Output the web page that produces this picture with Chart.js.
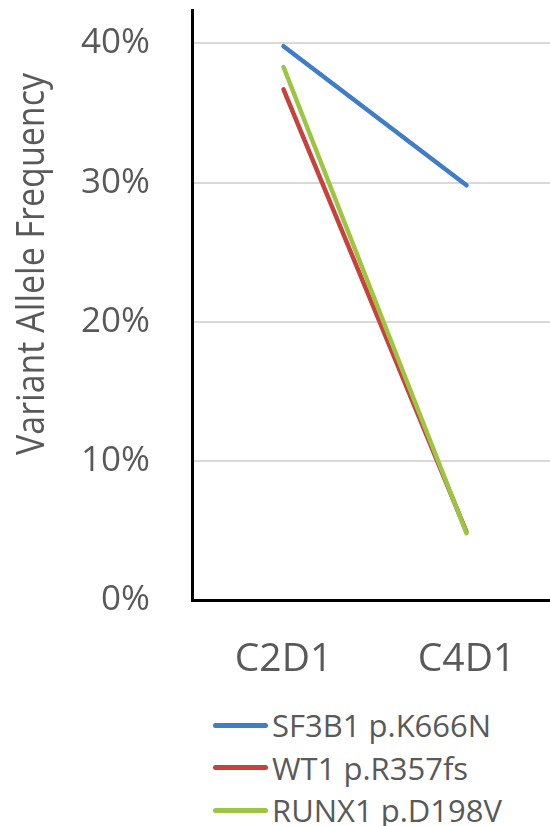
<!DOCTYPE html>
<html>
<head>
<meta charset="utf-8">
<script src="https://cdn.jsdelivr.net/npm/chart.js@4.4.1/dist/chart.umd.min.js"></script>
<style>
  html,body{margin:0;padding:0;background:#fff;overflow:hidden;width:550px;height:826px}
  #wrap{position:relative;width:560px;height:690px}
  #legend{position:absolute;left:213px;top:704px;font-family:"Open Sans","Noto Sans",sans-serif;font-size:31px;color:#595959}
  #legend .row{display:flex;align-items:center;height:42.5px;white-space:nowrap}
  #legend .swatch{width:55px;height:5px;border-radius:3px;margin-right:4px}
</style>
</head>
<body>
<div id="wrap"><canvas id="c" width="560" height="690"></canvas></div>
<div id="legend"></div>
<script>
const categories = ['C2D1','C4D1'];
const seriesNames = ['SF3B1 p.K666N','WT1 p.R357fs','RUNX1 p.D198V'];
const sf3b1 = [39.8, 29.8];
const wt1 = [36.7, 4.9];
const runx1 = [38.3, 4.8];
const yTicks = [0,10,20,30,40];
const yTitle = 'Variant Allele Frequency';
const colors = ['#3f7dc8','#c8413b','#9cc543'];

const seriesData = [sf3b1, wt1, runx1];
const drawOrder = [0, 2, 1];

const datasets = seriesNames.map((name,i)=>({
  label:name, data:seriesData[i], borderColor:colors[i], backgroundColor:colors[i],
  borderWidth:4.5, borderCapStyle:'round', pointRadius:0, tension:0, order:drawOrder[i]
}));

// axis title sits a bit above the axis middle in the original, and is condensed
const yTitlePlugin = {
  id:'yTitle',
  afterDraw(c){
    const ctx = c.ctx;
    ctx.save();
    ctx.translate(33, 264);
    ctx.rotate(-Math.PI/2);
    ctx.font = '39px "Open Sans","Noto Sans",sans-serif';
    const w = ctx.measureText(yTitle).width;
    ctx.scale(382 / w, 1);
    ctx.fillStyle = '#595959';
    ctx.textAlign = 'center';
    ctx.textBaseline = 'middle';
    ctx.fillText(yTitle, 0, 0);
    ctx.restore();
  }
};

const chart = new Chart(document.getElementById('c'), {
  type:'line',
  data:{labels:categories, datasets},
  plugins:[yTitlePlugin],
  options:{
    responsive:false, animation:false,
    layout:{padding:{top:10,right:2,left:0,bottom:0}},
    plugins:{legend:{display:false}, tooltip:{enabled:false}},
    scales:{
      x:{
        offset:true,
        grid:{display:false, drawTicks:false},
        border:{color:'#000', width:3},
        ticks:{color:'#595959', padding:36, font:{family:'"Open Sans","Noto Sans",sans-serif', size:39}},
        afterFit:s=>{ s.height = 90; }
      },
      y:{
        min:0, max:42.4,
        afterBuildTicks:s=>{ s.ticks = yTicks.map(v=>({value:v})); },
        grid:{color:'#d9d9d9', lineWidth:2, drawTicks:false},
        border:{color:'#000', width:3},
        ticks:{color:'#595959', padding:42, callback:v=>v+'%', font:{family:'"Open Sans","Noto Sans",sans-serif', size:35}},
        title:{display:false},
        afterFit:s=>{ s.width = 192; s.paddingTop = 0; s.paddingBottom = 0; }
      }
    }
  }
});

// legend built from the chart's own datasets
const leg = document.getElementById('legend');
chart.data.datasets.forEach(ds=>{
  const row = document.createElement('div'); row.className='row';
  row.innerHTML = `<span class="swatch" style="background:${ds.borderColor}"></span><span>${ds.label}</span>`;
  leg.appendChild(row);
});
</script>
</body>
</html>
